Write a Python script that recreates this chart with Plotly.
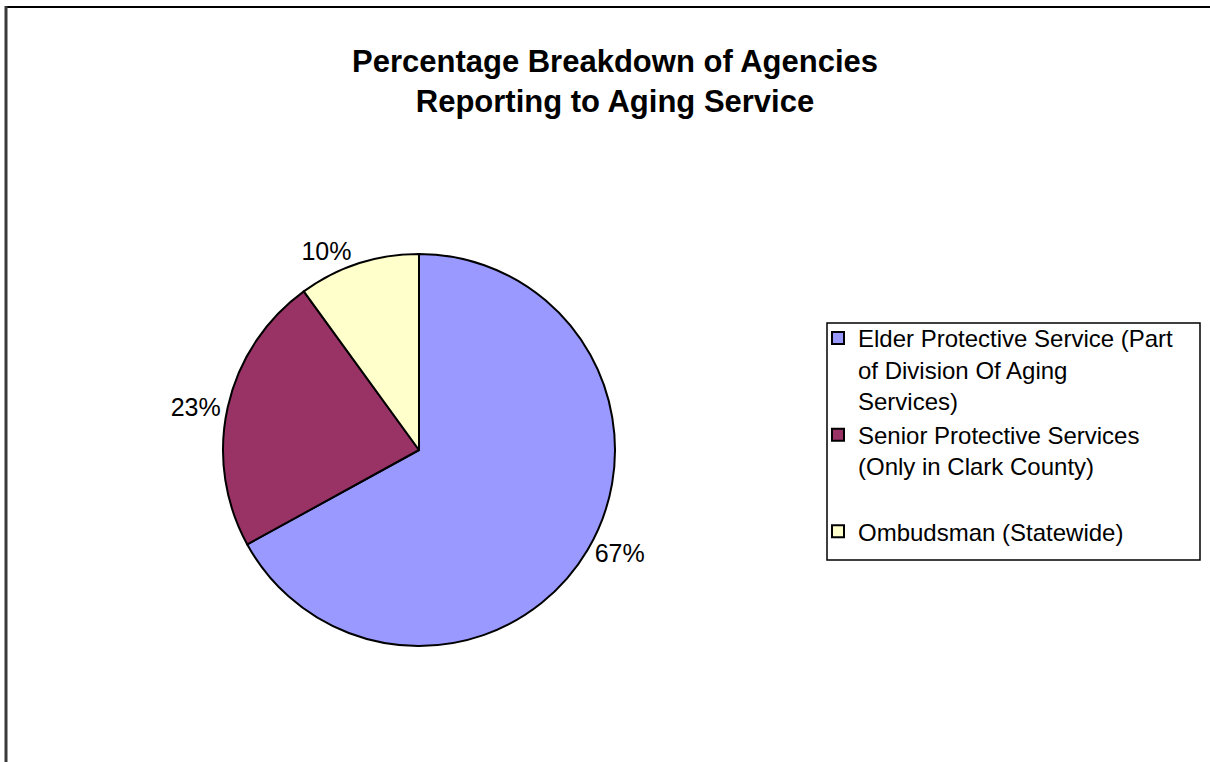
import plotly.graph_objects as go

W, H = 1210, 762

# chart data
labels = [
    "Elder Protective Service (Part<br>of Division Of Aging<br>Services)",
    "Senior Protective Services<br>(Only in Clark County)<br> ",
    "Ombudsman (Statewide)",
]
values = [67, 23, 10]
colors = ["#9999FF", "#993366", "#FFFFCC"]

title_text = "Percentage Breakdown of Agencies<br>Reporting to Aging Service"

FONT = "Arial, Liberation Sans, sans-serif"


def px_x(x):
    return x / W


def px_y(y):
    return 1 - y / H


# pie centre (419, 450), radius ~196
cx, cy, r = 419, 450, 196

fig = go.Figure(go.Pie(
    labels=labels,
    values=values,
    marker=dict(colors=colors, line=dict(color="black", width=2)),
    sort=False,
    direction="clockwise",
    rotation=0,
    textinfo="percent",
    texttemplate="%{percent:.0%}",
    textposition="outside",
    outsidetextfont=dict(family=FONT, size=25, color="black"),
    domain=dict(x=[px_x(cx - r), px_x(cx + r)], y=[px_y(cy + r), px_y(cy - r)]),
    showlegend=True,
))

# outer frame (top and left edge) and legend box
fig.add_shape(type="line", xref="paper", yref="paper",
              x0=px_x(5), x1=1, y0=px_y(7), y1=px_y(7),
              line=dict(color="black", width=2))
fig.add_shape(type="line", xref="paper", yref="paper",
              x0=px_x(6), x1=px_x(6), y0=px_y(6), y1=0,
              line=dict(color="#3a3a3a", width=3))
fig.add_shape(type="rect", xref="paper", yref="paper",
              x0=px_x(827), x1=px_x(1200), y0=px_y(560), y1=px_y(323),
              line=dict(color="black", width=1.5), fillcolor="rgba(0,0,0,0)")

fig.update_layout(
    width=W, height=H,
    margin=dict(l=0, r=0, t=0, b=0),
    paper_bgcolor="white",
    plot_bgcolor="white",
    font=dict(family=FONT, size=24, color="black"),
    title=dict(text=title_text, x=px_x(615), xanchor="center",
               y=px_y(72), yanchor="top",
               font=dict(family=FONT, size=31, color="black", weight="bold")),
    legend=dict(x=px_x(818), xanchor="left", y=px_y(316), yanchor="top",
                bgcolor="rgba(0,0,0,0)", borderwidth=0,
                font=dict(family=FONT, size=24, color="black"),
                valign="top", tracegroupgap=0, itemclick=False),
)

fig.write_html("out.html", config={"displayModeBar": False},
               post_script="document.body.style.margin='0px';")
